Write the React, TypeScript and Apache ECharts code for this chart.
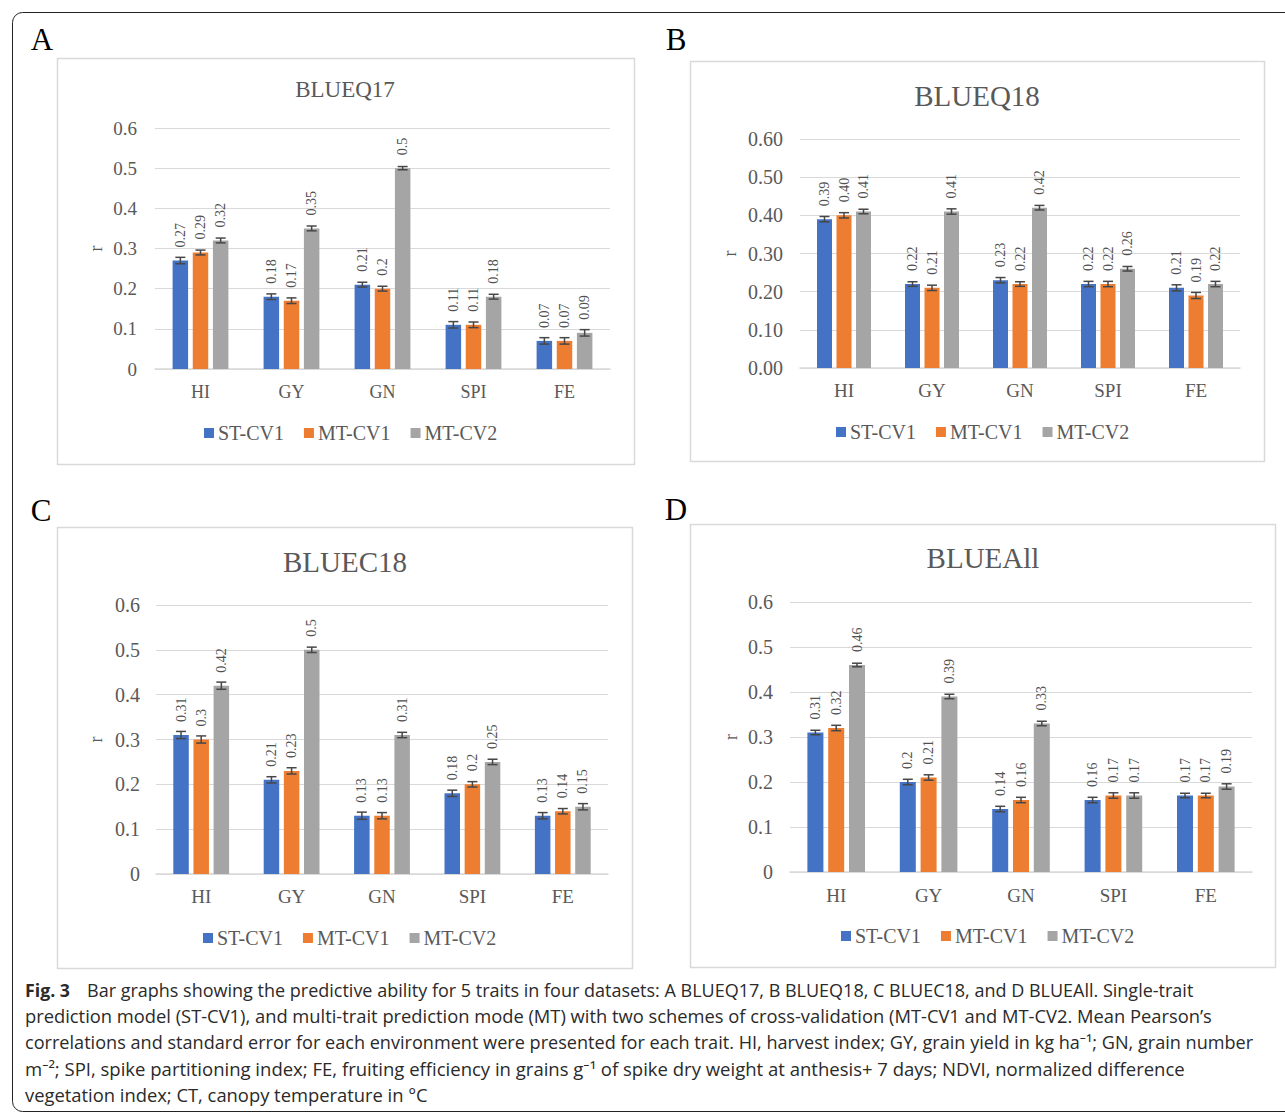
import React, { useEffect, useRef } from 'react';
import * as echarts from 'echarts';

// ---------------- data ----------------
const categories = ['HI', 'GY', 'GN', 'SPI', 'FE'];
const seriesNames = ['ST-CV1', 'MT-CV1', 'MT-CV2'];
const ticksOneDec = ['0', '0.1', '0.2', '0.3', '0.4', '0.5', '0.6'];
const ticksTwoDec = ['0.00', '0.10', '0.20', '0.30', '0.40', '0.50', '0.60'];

// A: BLUEQ17
const q17St = [0.27, 0.18, 0.21, 0.11, 0.07];
const q17Mt1 = [0.29, 0.17, 0.2, 0.11, 0.07];
const q17Mt2 = [0.32, 0.35, 0.5, 0.18, 0.09];
const q17StErr = [0.008, 0.007, 0.006, 0.008, 0.008];
const q17Mt1Err = [0.006, 0.007, 0.006, 0.007, 0.008];
const q17Mt2Err = [0.006, 0.006, 0.004, 0.006, 0.008];

// B: BLUEQ18
const q18St = [0.39, 0.22, 0.23, 0.22, 0.21];
const q18Mt1 = [0.4, 0.21, 0.22, 0.22, 0.19];
const q18Mt2 = [0.41, 0.41, 0.42, 0.26, 0.22];
const q18StErr = [0.007, 0.006, 0.007, 0.007, 0.008];
const q18Mt1Err = [0.007, 0.007, 0.006, 0.007, 0.008];
const q18Mt2Err = [0.006, 0.007, 0.006, 0.006, 0.007];

// C: BLUEC18
const c18St = [0.31, 0.21, 0.13, 0.18, 0.13];
const c18Mt1 = [0.3, 0.23, 0.13, 0.2, 0.14];
const c18Mt2 = [0.42, 0.5, 0.31, 0.25, 0.15];
const c18StErr = [0.008, 0.007, 0.008, 0.007, 0.007];
const c18Mt1Err = [0.008, 0.007, 0.007, 0.006, 0.006];
const c18Mt2Err = [0.008, 0.006, 0.006, 0.006, 0.007];

// D: BLUEAll
const allSt = [0.31, 0.2, 0.14, 0.16, 0.17];
const allMt1 = [0.32, 0.21, 0.16, 0.17, 0.17];
const allMt2 = [0.46, 0.39, 0.33, 0.17, 0.19];
const allStErr = [0.005, 0.006, 0.006, 0.006, 0.005];
const allMt1Err = [0.006, 0.006, 0.006, 0.006, 0.005];
const allMt2Err = [0.004, 0.005, 0.005, 0.006, 0.006];

const panelTitles = ['BLUEQ17', 'BLUEQ18', 'BLUEC18', 'BLUEAll'];
const panelLetters = ['A', 'B', 'C', 'D'];

const captionBold = 'Fig. 3';
const captionLines = [
  'Bar graphs showing the predictive ability for 5 traits in four datasets: A BLUEQ17, B BLUEQ18, C BLUEC18, and D BLUEAll. Single-trait',
  'prediction model (ST-CV1), and multi-trait prediction mode (MT) with two schemes of cross-validation (MT-CV1 and MT-CV2. Mean Pearson\u2019s',
  'correlations and standard error for each environment were presented for each trait. HI, harvest index; GY, grain yield in kg ha\u207B\u00B9; GN, grain number',
  'm\u207B\u00B2; SPI, spike partitioning index; FE, fruiting efficiency in grains g\u207B\u00B9 of spike dry weight at anthesis+ 7 days; NDVI, normalized difference',
  'vegetation index; CT, canopy temperature in \u00B0C',
];

// ---------------- styling / layout ----------------
const COLORS = ['#4472C4', '#ED7D31', '#A5A5A5'];
const SERIF = '"Liberation Serif", "Times New Roman", serif';
const SANS = '"Open Sans", "Noto Sans", sans-serif';
const TEXT = '#595959';

const panelValues = [
  [q17St, q17Mt1, q17Mt2],
  [q18St, q18Mt1, q18Mt2],
  [c18St, c18Mt1, c18Mt2],
  [allSt, allMt1, allMt2],
];
const panelErrors = [
  [q17StErr, q17Mt1Err, q17Mt2Err],
  [q18StErr, q18Mt1Err, q18Mt2Err],
  [c18StErr, c18Mt1Err, c18Mt2Err],
  [allStErr, allMt1Err, allMt2Err],
];

const layouts = [
  { grid: { left: 155, top: 128, width: 455, height: 241 }, nameGap: 50, yMargin: 18, xMargin: 14,
    legend: { left: 204, top: 423 }, title: { x: 345, y: 89, size: 23 },
    box: { x: 57, y: 58, w: 577, h: 406 }, letter: { x: 42, y: 39 },
    tick: 19, cat: 18, leg: 20, lab: 14, barW: 15.5, decimals: 0 },
  { grid: { left: 800, top: 139, width: 440, height: 229 }, nameGap: 61, yMargin: 17, xMargin: 13,
    legend: { left: 836, top: 422 }, title: { x: 977, y: 96, size: 29 },
    box: { x: 690, y: 61, w: 574, h: 400 }, letter: { x: 676, y: 39 },
    tick: 20, cat: 19, leg: 20, lab: 14, barW: 15, decimals: 2 },
  { grid: { left: 156, top: 605, width: 452, height: 269 }, nameGap: 51, yMargin: 16, xMargin: 13,
    legend: { left: 203, top: 928 }, title: { x: 345, y: 562, size: 29 },
    box: { x: 57, y: 527, w: 575, h: 441 }, letter: { x: 41, y: 510 },
    tick: 20, cat: 19, leg: 20, lab: 14, barW: 15.5, decimals: 0 },
  { grid: { left: 790, top: 602, width: 462, height: 270 }, nameGap: 50, yMargin: 17, xMargin: 14,
    legend: { left: 841, top: 926 }, title: { x: 983, y: 558, size: 29 },
    box: { x: 690, y: 524, w: 585, h: 443 }, letter: { x: 676, y: 509 },
    tick: 20, cat: 19, leg: 20, lab: 14, barW: 16, decimals: 0 },
];

const GAP_RATIO = 0.3;

const captionLayout = {
  x: 25, boldEnd: 70, restX: 87, y0: 989.5, dy: 26.5,
  ends: [1193, 1213, 1254, 1185, 428], size: 18, color: '#2a2a2a',
};

function measure(text: string, font: string): number {
  const c = document.createElement('canvas');
  const ctx = c.getContext('2d');
  if (!ctx) return text.length * 9;
  ctx.font = font;
  return ctx.measureText(text).width;
}

function buildOption() {
  const grids: any[] = [];
  const xAxes: any[] = [];
  const yAxes: any[] = [];
  const legends: any[] = [];
  const series: any[] = [];
  const graphics: any[] = [];

  // outer frame
  graphics.push({
    type: 'rect', silent: true, z: 0,
    shape: { x: 12.5, y: 12.5, width: 1300, height: 1099, r: 10 },
    style: { fill: 'none', stroke: '#222', lineWidth: 1 },
  });

  layouts.forEach((L, p) => {
    grids.push({ ...L.grid, containLabel: false });
    xAxes.push({
      type: 'category', gridIndex: p, data: categories,
      axisTick: { show: false },
      axisLine: { show: true, lineStyle: { color: '#D9D9D9', width: 1.5 } },
      axisLabel: { margin: L.xMargin, fontSize: L.cat, color: TEXT, fontFamily: SERIF },
    });
    const ticks = L.decimals === 2 ? ticksTwoDec : ticksOneDec;
    yAxes.push({
      type: 'value', gridIndex: p, min: 0, max: 0.6, interval: 0.1,
      name: 'r', nameLocation: 'middle', nameGap: L.nameGap,
      nameTextStyle: { fontSize: 18, color: TEXT, fontFamily: SERIF },
      axisLine: { show: false }, axisTick: { show: false },
      splitLine: { lineStyle: { color: '#D9D9D9', width: 1 } },
      axisLabel: {
        margin: L.yMargin, fontSize: L.tick, color: TEXT, fontFamily: SERIF,
        formatter: (_v: number, i: number) => ticks[i],
      },
    });
    legends.push({
      data: seriesNames, left: L.legend.left, top: L.legend.top, padding: 0,
      icon: 'rect', itemWidth: 10, itemHeight: 10, itemGap: 20,
      textStyle: { fontSize: L.leg, color: TEXT, fontFamily: SERIF, padding: [0, 0, 0, -1] },
      selectedMode: false,
    });

    const stride = L.barW * (1 + GAP_RATIO);
    seriesNames.forEach((name, k) => {
      const vals = panelValues[p][k];
      const errs = panelErrors[p][k];
      series.push({
        type: 'bar', name, xAxisIndex: p, yAxisIndex: p,
        data: vals, barWidth: L.barW, barGap: `${GAP_RATIO * 100}%`,
        itemStyle: { color: COLORS[k] },
        label: {
          show: true, position: 'top', rotate: 90, align: 'left', verticalAlign: 'middle',
          distance: 13, fontSize: L.lab, color: '#505050', fontFamily: SERIF,
          formatter: (prm: any) => (L.decimals === 2 ? Number(prm.value).toFixed(2) : String(prm.value)),
        },
        silent: true,
      });
      const off = (k - 1) * stride;
      series.push({
        type: 'custom', xAxisIndex: p, yAxisIndex: p, silent: true, z: 5,
        data: vals.map((v, j) => [j, v, errs[j]]),
        renderItem: (_params: any, api: any) => {
          const idx = api.value(0);
          const v = api.value(1);
          const e = api.value(2);
          const c = api.coord([idx, v]);
          const t = api.coord([idx, v + e]);
          const b = api.coord([idx, v - e]);
          const x = c[0] + off;
          const st = { stroke: '#474747', lineWidth: 1.5 };
          return {
            type: 'group',
            children: [
              { type: 'line', shape: { x1: x, y1: t[1], x2: x, y2: b[1] }, style: st },
              { type: 'line', shape: { x1: x - 5, y1: t[1], x2: x + 5, y2: t[1] }, style: st },
              { type: 'line', shape: { x1: x - 5, y1: b[1], x2: x + 5, y2: b[1] }, style: st },
            ],
          };
        },
      });
    });

    // panel box, title, letter
    graphics.push({
      type: 'rect', silent: true, z: 0,
      shape: { x: L.box.x + 0.5, y: L.box.y + 0.5, width: L.box.w, height: L.box.h },
      style: { fill: 'none', stroke: '#D9D9D9', lineWidth: 1.5 },
    });
    graphics.push({
      type: 'text', silent: true, x: L.title.x, y: L.title.y,
      style: {
        text: panelTitles[p], fontSize: L.title.size, fontFamily: SERIF, fill: TEXT,
        textAlign: 'center', textVerticalAlign: 'middle', align: 'center', verticalAlign: 'middle',
      },
    });
    graphics.push({
      type: 'text', silent: true, x: L.letter.x, y: L.letter.y,
      style: {
        text: panelLetters[p], fontSize: 31, fontFamily: SERIF, fill: '#000',
        textAlign: 'center', textVerticalAlign: 'middle', align: 'center', verticalAlign: 'middle',
      },
    });
  });

  // caption
  const C = captionLayout;
  const boldFont = `bold ${C.size}px "Open Sans"`;
  const regFont = `${C.size}px "Open Sans"`;
  const bw = measure(captionBold, boldFont);
  graphics.push({
    type: 'text', silent: true, x: C.x, y: C.y0, scaleX: (C.boldEnd - C.x) / bw,
    style: {
      text: captionBold, fontSize: C.size, fontWeight: 'bold', fontFamily: SANS, fill: C.color,
      textAlign: 'left', textVerticalAlign: 'middle', align: 'left', verticalAlign: 'middle',
    },
  });
  captionLines.forEach((line, i) => {
    const sx = i === 0 ? C.restX : C.x;
    const w = measure(line, regFont);
    graphics.push({
      type: 'text', silent: true, x: sx, y: C.y0 + i * C.dy, scaleX: (C.ends[i] - sx) / w,
      style: {
        text: line, fontSize: C.size, fontFamily: SANS, fill: C.color,
        textAlign: 'left', textVerticalAlign: 'middle', align: 'left', verticalAlign: 'middle',
      },
    });
  });

  return {
    animation: false,
    backgroundColor: '#ffffff',
    grid: grids,
    xAxis: xAxes,
    yAxis: yAxes,
    legend: legends,
    series,
    graphic: { elements: graphics },
  };
}

export default function App() {
  const ref = useRef<HTMLDivElement>(null);
  useEffect(() => {
    if (!ref.current) return;
    const chart = echarts.init(ref.current, undefined, { renderer: 'svg' });
    chart.setOption(buildOption() as any);
    return () => chart.dispose();
  }, []);
  return (
    <div
      ref={ref}
      style={{ position: 'absolute', left: 0, top: 0, width: 1285, height: 1113, background: '#fff' }}
    />
  );
}
